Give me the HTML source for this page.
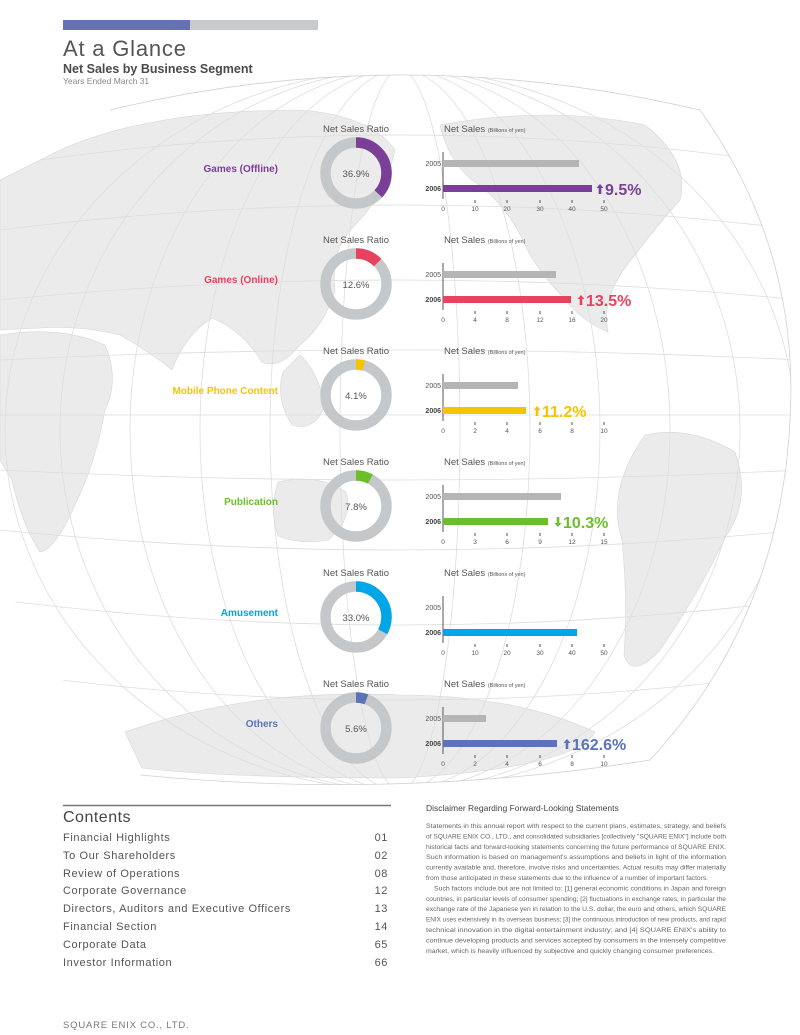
<!DOCTYPE html>
<html><head><meta charset="utf-8"><style>
html,body{margin:0;padding:0;background:#fff}
svg{display:block}
text{font-family:"Liberation Sans",sans-serif}
</style></head><body>
<svg width="800" height="1035" viewBox="0 0 800 1035" xmlns="http://www.w3.org/2000/svg">
<defs>
<path id="up" d="M0,-5 L3.5,-1 L1.3,-1 L1.3,5 L-1.3,5 L-1.3,-1 L-3.5,-1 Z"/>
</defs>
<!-- header -->
<rect x="63" y="20" width="127" height="10" fill="#6670b5"/>
<rect x="190" y="20" width="128" height="10" fill="#c9cacb"/>
<text x="63" y="56" font-size="22" fill="#555" letter-spacing="0.8">At a Glance</text>
<text x="63" y="73" font-size="12.5" font-weight="bold" fill="#4a4a4a">Net Sales by Business Segment</text>
<text x="63" y="84" font-size="8.5" fill="#888">Years Ended March 31</text>

<!-- globe -->
<g>
<clipPath id="g"><path d="M110,110 Q400,40 700,110 Q800,250 790,420 Q780,620 650,760 Q400,800 140,775 Q20,640 0,560 L0,130 Z"/></clipPath>
<g clip-path="url(#g)">
<g fill="#ebebec" stroke="#d6d7d8" stroke-width="0.6">
<path d="M60,150 Q150,110 300,110 Q370,115 395,150 Q385,195 355,225 Q330,250 335,290 Q325,325 300,345 Q280,370 262,362 Q242,330 212,318 Q185,335 172,370 Q150,352 120,335 Q80,325 40,328 L0,330 L0,180 Z"/>
<path d="M0,335 Q60,325 105,345 Q120,380 105,410 Q95,465 75,505 Q55,550 40,552 Q22,525 12,480 L0,460 Z"/>
<path d="M300,355 Q318,372 325,405 Q315,432 292,425 Q275,398 283,372 Z"/>
<path d="M440,125 Q550,105 645,125 Q690,160 680,200 Q655,228 635,255 Q600,295 608,332 Q582,322 562,296 Q533,266 522,238 Q502,200 472,180 Q448,160 440,125 Z"/>
<path d="M645,435 Q690,425 735,452 Q752,500 725,538 Q698,595 660,650 Q632,680 624,655 Q628,600 622,540 Q606,490 645,435 Z"/>
<path d="M278,482 Q318,473 346,492 Q354,518 328,540 Q300,545 278,536 Q269,510 278,482 Z"/>
<path d="M125,732 Q250,688 400,695 Q515,695 595,732 Q575,768 400,778 Q225,778 142,768 Z"/>
</g>
<g fill="none" stroke="#dcdddd" stroke-width="0.8">
<ellipse cx="400" cy="430" rx="60" ry="360"/>
<ellipse cx="400" cy="430" rx="130" ry="360"/>
<ellipse cx="400" cy="430" rx="200" ry="360"/>
<ellipse cx="400" cy="430" rx="270" ry="360"/>
<ellipse cx="400" cy="430" rx="340" ry="360"/>
<ellipse cx="400" cy="430" rx="395" ry="360"/>
<path d="M0,415 L800,415"/>
<path d="M0,360 Q400,340 800,360"/><path d="M0,470 Q400,490 800,470"/>
<path d="M0,300 Q400,260 800,300"/><path d="M0,530 Q400,570 800,530"/>
<path d="M0,230 Q400,180 800,230"/><path d="M0,600 Q400,650 800,600"/>
<path d="M40,160 Q400,110 760,160"/><path d="M60,680 Q400,720 740,680"/>
</g>
</g>
<path d="M110,110 Q400,40 700,110 Q800,250 790,420 Q780,620 650,760 Q400,800 140,775" fill="none" stroke="#d0d1d2" stroke-width="0.8"/>
</g>

<g transform="translate(0,0)">
<text x="356" y="132" font-size="9.5" fill="#555" text-anchor="middle">Net Sales Ratio</text>
<circle cx="356" cy="173" r="30.5" fill="none" stroke="#c5c8ca" stroke-width="10.5"/>
<circle cx="356" cy="173" r="30.5" fill="none" stroke="#7b3f97" stroke-width="10.5" stroke-dasharray="70.7 200" transform="rotate(-90 356 173)"/>
<text x="356" y="177" font-size="9.5" fill="#555" text-anchor="middle">36.9%</text>
<text x="278" y="172" font-size="10" font-weight="bold" fill="#7b3f97" text-anchor="end">Games (Offline)</text>
<text x="444" y="132" font-size="9.5" fill="#555">Net Sales <tspan font-size="5.5">(Billions of yen)</tspan></text>
<line x1="443" y1="152" x2="443" y2="199" stroke="#555"/>
<rect x="443" y="160" width="136" height="7" fill="#b3b5b7"/>
<rect x="443" y="185" width="149" height="7" fill="#7b3f97"/>
<text x="441" y="166" font-size="7" fill="#555" text-anchor="end">2005</text>
<text x="441" y="191" font-size="7" font-weight="bold" fill="#444" text-anchor="end">2006</text>
<g font-size="6.5" fill="#555" text-anchor="middle"><text x="443" y="211">0</text><text x="475" y="211">10</text><text x="507" y="211">20</text><text x="540" y="211">30</text><text x="572" y="211">40</text><text x="604" y="211">50</text></g>
<g stroke="#555"><line x1="475" y1="200" x2="475" y2="203"/><line x1="507" y1="200" x2="507" y2="203"/><line x1="540" y1="200" x2="540" y2="203"/><line x1="572" y1="200" x2="572" y2="203"/><line x1="604" y1="200" x2="604" y2="203"/></g>
<use href="#up" x="600" y="189" fill="#7b3f97"/>
<text x="605" y="195" font-size="16" font-weight="bold" fill="#7b3f97">9.5%</text>
</g>

<g transform="translate(0,111)">
<text x="356" y="132" font-size="9.5" fill="#555" text-anchor="middle">Net Sales Ratio</text>
<circle cx="356" cy="173" r="30.5" fill="none" stroke="#c5c8ca" stroke-width="10.5"/>
<circle cx="356" cy="173" r="30.5" fill="none" stroke="#e8435e" stroke-width="10.5" stroke-dasharray="24.1 200" transform="rotate(-90 356 173)"/>
<text x="356" y="177" font-size="9.5" fill="#555" text-anchor="middle">12.6%</text>
<text x="278" y="172" font-size="10" font-weight="bold" fill="#e8435e" text-anchor="end">Games (Online)</text>
<text x="444" y="132" font-size="9.5" fill="#555">Net Sales <tspan font-size="5.5">(Billions of yen)</tspan></text>
<line x1="443" y1="152" x2="443" y2="199" stroke="#555"/>
<rect x="443" y="160" width="113" height="7" fill="#b3b5b7"/>
<rect x="443" y="185" width="128" height="7" fill="#e8435e"/>
<text x="441" y="166" font-size="7" fill="#555" text-anchor="end">2005</text>
<text x="441" y="191" font-size="7" font-weight="bold" fill="#444" text-anchor="end">2006</text>
<g font-size="6.5" fill="#555" text-anchor="middle"><text x="443" y="211">0</text><text x="475" y="211">4</text><text x="507" y="211">8</text><text x="540" y="211">12</text><text x="572" y="211">16</text><text x="604" y="211">20</text></g>
<g stroke="#555"><line x1="475" y1="200" x2="475" y2="203"/><line x1="507" y1="200" x2="507" y2="203"/><line x1="540" y1="200" x2="540" y2="203"/><line x1="572" y1="200" x2="572" y2="203"/><line x1="604" y1="200" x2="604" y2="203"/></g>
<use href="#up" x="581" y="189" fill="#e8435e"/>
<text x="586" y="195" font-size="16" font-weight="bold" fill="#e8435e">13.5%</text>
</g>

<g transform="translate(0,222)">
<text x="356" y="132" font-size="9.5" fill="#555" text-anchor="middle">Net Sales Ratio</text>
<circle cx="356" cy="173" r="30.5" fill="none" stroke="#c5c8ca" stroke-width="10.5"/>
<circle cx="356" cy="173" r="30.5" fill="none" stroke="#f5c400" stroke-width="10.5" stroke-dasharray="7.9 200" transform="rotate(-90 356 173)"/>
<text x="356" y="177" font-size="9.5" fill="#555" text-anchor="middle">4.1%</text>
<text x="278" y="172" font-size="10" font-weight="bold" fill="#f5c400" text-anchor="end">Mobile Phone Content</text>
<text x="444" y="132" font-size="9.5" fill="#555">Net Sales <tspan font-size="5.5">(Billions of yen)</tspan></text>
<line x1="443" y1="152" x2="443" y2="199" stroke="#555"/>
<rect x="443" y="160" width="75" height="7" fill="#b3b5b7"/>
<rect x="443" y="185" width="83" height="7" fill="#f5c400"/>
<text x="441" y="166" font-size="7" fill="#555" text-anchor="end">2005</text>
<text x="441" y="191" font-size="7" font-weight="bold" fill="#444" text-anchor="end">2006</text>
<g font-size="6.5" fill="#555" text-anchor="middle"><text x="443" y="211">0</text><text x="475" y="211">2</text><text x="507" y="211">4</text><text x="540" y="211">6</text><text x="572" y="211">8</text><text x="604" y="211">10</text></g>
<g stroke="#555"><line x1="475" y1="200" x2="475" y2="203"/><line x1="507" y1="200" x2="507" y2="203"/><line x1="540" y1="200" x2="540" y2="203"/><line x1="572" y1="200" x2="572" y2="203"/><line x1="604" y1="200" x2="604" y2="203"/></g>
<use href="#up" x="537" y="189" fill="#f5c400"/>
<text x="542" y="195" font-size="16" font-weight="bold" fill="#f5c400">11.2%</text>
</g>

<g transform="translate(0,333)">
<text x="356" y="132" font-size="9.5" fill="#555" text-anchor="middle">Net Sales Ratio</text>
<circle cx="356" cy="173" r="30.5" fill="none" stroke="#c5c8ca" stroke-width="10.5"/>
<circle cx="356" cy="173" r="30.5" fill="none" stroke="#6cbf2a" stroke-width="10.5" stroke-dasharray="15 200" transform="rotate(-90 356 173)"/>
<text x="356" y="177" font-size="9.5" fill="#555" text-anchor="middle">7.8%</text>
<text x="278" y="172" font-size="10" font-weight="bold" fill="#6cbf2a" text-anchor="end">Publication</text>
<text x="444" y="132" font-size="9.5" fill="#555">Net Sales <tspan font-size="5.5">(Billions of yen)</tspan></text>
<line x1="443" y1="152" x2="443" y2="199" stroke="#555"/>
<rect x="443" y="160" width="118" height="7" fill="#b3b5b7"/>
<rect x="443" y="185" width="105" height="7" fill="#6cbf2a"/>
<text x="441" y="166" font-size="7" fill="#555" text-anchor="end">2005</text>
<text x="441" y="191" font-size="7" font-weight="bold" fill="#444" text-anchor="end">2006</text>
<g font-size="6.5" fill="#555" text-anchor="middle"><text x="443" y="211">0</text><text x="475" y="211">3</text><text x="507" y="211">6</text><text x="540" y="211">9</text><text x="572" y="211">12</text><text x="604" y="211">15</text></g>
<g stroke="#555"><line x1="475" y1="200" x2="475" y2="203"/><line x1="507" y1="200" x2="507" y2="203"/><line x1="540" y1="200" x2="540" y2="203"/><line x1="572" y1="200" x2="572" y2="203"/><line x1="604" y1="200" x2="604" y2="203"/></g>
<use href="#up" x="558" y="189" fill="#6cbf2a" transform="rotate(180 558 189)"/>
<text x="563" y="195" font-size="16" font-weight="bold" fill="#6cbf2a">10.3%</text>
</g>

<g transform="translate(0,444)">
<text x="356" y="132" font-size="9.5" fill="#555" text-anchor="middle">Net Sales Ratio</text>
<circle cx="356" cy="173" r="30.5" fill="none" stroke="#c5c8ca" stroke-width="10.5"/>
<circle cx="356" cy="173" r="30.5" fill="none" stroke="#00a6e6" stroke-width="10.5" stroke-dasharray="63.2 200" transform="rotate(-90 356 173)"/>
<text x="356" y="177" font-size="9.5" fill="#555" text-anchor="middle">33.0%</text>
<text x="278" y="172" font-size="10" font-weight="bold" fill="#00a6e6" text-anchor="end">Amusement</text>
<text x="444" y="132" font-size="9.5" fill="#555">Net Sales <tspan font-size="5.5">(Billions of yen)</tspan></text>
<line x1="443" y1="152" x2="443" y2="199" stroke="#555"/>
<rect x="443" y="185" width="134" height="7" fill="#00a6e6"/>
<text x="441" y="166" font-size="7" fill="#555" text-anchor="end">2005</text>
<text x="441" y="191" font-size="7" font-weight="bold" fill="#444" text-anchor="end">2006</text>
<g font-size="6.5" fill="#555" text-anchor="middle"><text x="443" y="211">0</text><text x="475" y="211">10</text><text x="507" y="211">20</text><text x="540" y="211">30</text><text x="572" y="211">40</text><text x="604" y="211">50</text></g>
<g stroke="#555"><line x1="475" y1="200" x2="475" y2="203"/><line x1="507" y1="200" x2="507" y2="203"/><line x1="540" y1="200" x2="540" y2="203"/><line x1="572" y1="200" x2="572" y2="203"/><line x1="604" y1="200" x2="604" y2="203"/></g>
</g>

<g transform="translate(0,555)">
<text x="356" y="132" font-size="9.5" fill="#555" text-anchor="middle">Net Sales Ratio</text>
<circle cx="356" cy="173" r="30.5" fill="none" stroke="#c5c8ca" stroke-width="10.5"/>
<circle cx="356" cy="173" r="30.5" fill="none" stroke="#5b73b8" stroke-width="10.5" stroke-dasharray="10.7 200" transform="rotate(-90 356 173)"/>
<text x="356" y="177" font-size="9.5" fill="#555" text-anchor="middle">5.6%</text>
<text x="278" y="172" font-size="10" font-weight="bold" fill="#5b73b8" text-anchor="end">Others</text>
<text x="444" y="132" font-size="9.5" fill="#555">Net Sales <tspan font-size="5.5">(Billions of yen)</tspan></text>
<line x1="443" y1="152" x2="443" y2="199" stroke="#555"/>
<rect x="443" y="160" width="43" height="7" fill="#b3b5b7"/>
<rect x="443" y="185" width="114" height="7" fill="#5b73b8"/>
<text x="441" y="166" font-size="7" fill="#555" text-anchor="end">2005</text>
<text x="441" y="191" font-size="7" font-weight="bold" fill="#444" text-anchor="end">2006</text>
<g font-size="6.5" fill="#555" text-anchor="middle"><text x="443" y="211">0</text><text x="475" y="211">2</text><text x="507" y="211">4</text><text x="540" y="211">6</text><text x="572" y="211">8</text><text x="604" y="211">10</text></g>
<g stroke="#555"><line x1="475" y1="200" x2="475" y2="203"/><line x1="507" y1="200" x2="507" y2="203"/><line x1="540" y1="200" x2="540" y2="203"/><line x1="572" y1="200" x2="572" y2="203"/><line x1="604" y1="200" x2="604" y2="203"/></g>
<use href="#up" x="567" y="189" fill="#5b73b8"/>
<text x="572" y="195" font-size="16" font-weight="bold" fill="#5b73b8">162.6%</text>
</g>

<!-- contents -->
<line x1="63" y1="805.5" x2="391" y2="805.5" stroke="#777" stroke-width="1.5"/>
<text x="63" y="822" font-size="16" fill="#444" letter-spacing="0.5">Contents</text>
<g font-size="11" fill="#555" letter-spacing="0.6">
<text x="63" y="841">Financial Highlights</text><text x="388" y="841" text-anchor="end">01</text>
<text x="63" y="859">To Our Shareholders</text><text x="388" y="859" text-anchor="end">02</text>
<text x="63" y="877">Review of Operations</text><text x="388" y="877" text-anchor="end">08</text>
<text x="63" y="894">Corporate Governance</text><text x="388" y="894" text-anchor="end">12</text>
<text x="63" y="912">Directors, Auditors and Executive Officers</text><text x="388" y="912" text-anchor="end">13</text>
<text x="63" y="930">Financial Section</text><text x="388" y="930" text-anchor="end">14</text>
<text x="63" y="948">Corporate Data</text><text x="388" y="948" text-anchor="end">65</text>
<text x="63" y="966">Investor Information</text><text x="388" y="966" text-anchor="end">66</text>
</g>
<text x="63" y="1028" font-size="9.5" fill="#777" letter-spacing="0.8">SQUARE ENIX CO., LTD.</text>

<!-- disclaimer -->
<text x="426" y="811" font-size="8.5" fill="#444">Disclaimer Regarding Forward-Looking Statements</text>
<g font-size="6.6" fill="#666">
<text x="426" y="828" textLength="300" lengthAdjust="spacingAndGlyphs">Statements in this annual report with respect to the current plans, estimates, strategy, and beliefs</text>
<text x="426" y="838.4" textLength="300" lengthAdjust="spacingAndGlyphs">of SQUARE ENIX CO., LTD., and consolidated subsidiaries [collectively "SQUARE ENIX"] include both</text>
<text x="426" y="848.8" textLength="300" lengthAdjust="spacingAndGlyphs">historical facts and forward-looking statements concerning the future performance of SQUARE ENIX.</text>
<text x="426" y="859.2" textLength="300" lengthAdjust="spacingAndGlyphs">Such information is based on management's assumptions and beliefs in light of the information</text>
<text x="426" y="869.6" textLength="300" lengthAdjust="spacingAndGlyphs">currently available and, therefore, involve risks and uncertainties. Actual results may differ materially</text>
<text x="426" y="880" textLength="282" lengthAdjust="spacingAndGlyphs">from those anticipated in these statements due to the influence of a number of important factors.</text>
<text x="434" y="890.4" textLength="292" lengthAdjust="spacingAndGlyphs">Such factors include but are not limited to: [1] general economic conditions in Japan and foreign</text>
<text x="426" y="900.8" textLength="300" lengthAdjust="spacingAndGlyphs">countries, in particular levels of consumer spending; [2] fluctuations in exchange rates, in particular the</text>
<text x="426" y="911.2" textLength="300" lengthAdjust="spacingAndGlyphs">exchange rate of the Japanese yen in relation to the U.S. dollar, the euro and others, which SQUARE</text>
<text x="426" y="921.6" textLength="300" lengthAdjust="spacingAndGlyphs">ENIX uses extensively in its overseas business; [3] the continuous introduction of new products, and rapid</text>
<text x="426" y="932" textLength="300" lengthAdjust="spacingAndGlyphs">technical innovation in the digital entertainment industry; and [4] SQUARE ENIX's ability to</text>
<text x="426" y="942.4" textLength="300" lengthAdjust="spacingAndGlyphs">continue developing products and services accepted by consumers in the intensely competitive</text>
<text x="426" y="952.8" textLength="288" lengthAdjust="spacingAndGlyphs">market, which is heavily influenced by subjective and quickly changing consumer preferences.</text>
</g>
</svg>
</body></html>
